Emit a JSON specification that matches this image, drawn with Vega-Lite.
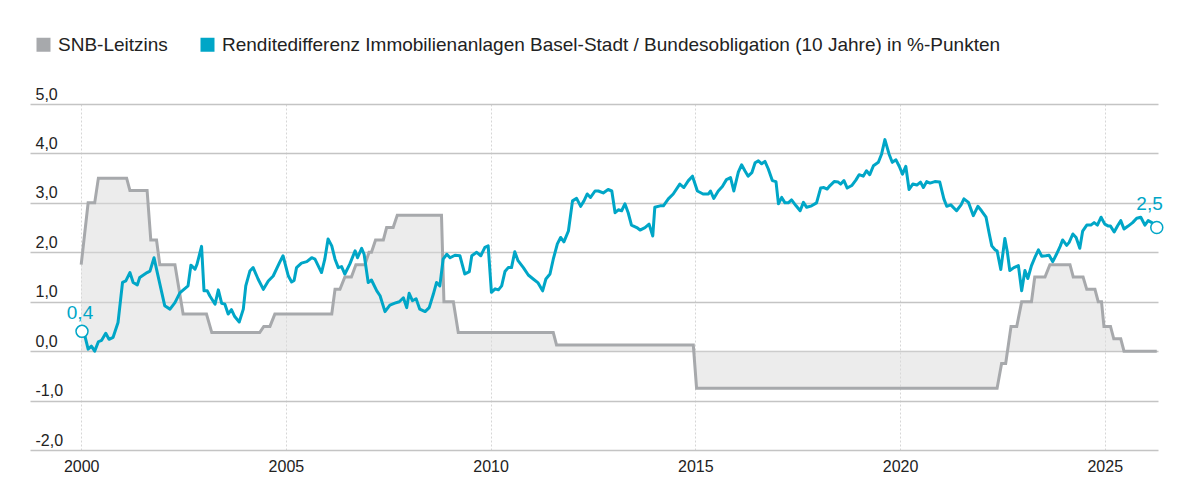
{
  "$schema": "https://vega.github.io/schema/vega-lite/v6.json",
  "width": 1128,
  "height": 346,
  "autosize": {"type": "none"},
  "padding": {"left": 30, "top": 104, "right": 32, "bottom": 50},
  "background": "white",
  "config": {
    "view": {"stroke": null},
    "font": "Liberation Sans"
  },
  "datasets": {
    "snb": [
      {"year":2000.00,"value":1.75},{"year":2000.17,"value":3.0},{"year":2000.33,"value":3.0},{"year":2000.42,"value":3.5},
      {"year":2001.11,"value":3.5},{"year":2001.19,"value":3.25},{"year":2001.61,"value":3.25},{"year":2001.70,"value":2.25},
      {"year":2001.84,"value":2.25},{"year":2001.92,"value":1.75},{"year":2002.29,"value":1.75},{"year":2002.49,"value":0.75},
      {"year":2003.06,"value":0.75},{"year":2003.19,"value":0.375},{"year":2004.36,"value":0.375},{"year":2004.46,"value":0.5},
      {"year":2004.61,"value":0.5},{"year":2004.73,"value":0.75},{"year":2006.12,"value":0.75},{"year":2006.20,"value":1.25},
      {"year":2006.32,"value":1.25},{"year":2006.44,"value":1.5},{"year":2006.60,"value":1.5},{"year":2006.71,"value":1.75},
      {"year":2006.93,"value":1.75},{"year":2007.03,"value":2.0},{"year":2007.09,"value":2.0},{"year":2007.19,"value":2.25},
      {"year":2007.38,"value":2.25},{"year":2007.46,"value":2.5},{"year":2007.62,"value":2.5},{"year":2007.72,"value":2.75},
      {"year":2008.80,"value":2.75},{"year":2008.86,"value":1.0},{"year":2009.09,"value":1.0},{"year":2009.21,"value":0.375},
      {"year":2011.53,"value":0.375},{"year":2011.61,"value":0.125},{"year":2014.95,"value":0.125},{"year":2015.03,"value":-0.75},
      {"year":2022.37,"value":-0.75},{"year":2022.48,"value":-0.25},{"year":2022.58,"value":-0.25},{"year":2022.71,"value":0.5},
      {"year":2022.85,"value":0.5},{"year":2022.97,"value":1.0},{"year":2023.21,"value":1.0},{"year":2023.29,"value":1.5},
      {"year":2023.54,"value":1.5},{"year":2023.66,"value":1.75},{"year":2024.15,"value":1.75},{"year":2024.23,"value":1.5},
      {"year":2024.47,"value":1.5},{"year":2024.56,"value":1.25},{"year":2024.76,"value":1.25},{"year":2024.84,"value":1.0},
      {"year":2024.92,"value":1.0},{"year":2024.98,"value":0.5},{"year":2025.14,"value":0.5},{"year":2025.22,"value":0.25},
      {"year":2025.39,"value":0.25},{"year":2025.47,"value":0.0},{"year":2026.27,"value":0.0}
    ],
    "spread": [
      {"year":2000.02,"value":0.40},{"year":2000.09,"value":0.31},{"year":2000.17,"value":0.04},{"year":2000.25,"value":0.10},
      {"year":2000.33,"value":0.00},{"year":2000.42,"value":0.19},{"year":2000.50,"value":0.22},{"year":2000.60,"value":0.36},
      {"year":2000.68,"value":0.24},{"year":2000.78,"value":0.28},{"year":2000.90,"value":0.58},{"year":2001.01,"value":1.39},
      {"year":2001.09,"value":1.42},{"year":2001.19,"value":1.59},{"year":2001.27,"value":1.39},{"year":2001.37,"value":1.34},
      {"year":2001.43,"value":1.49},{"year":2001.61,"value":1.59},{"year":2001.68,"value":1.62},{"year":2001.78,"value":1.89},
      {"year":2001.84,"value":1.66},{"year":2002.04,"value":0.92},{"year":2002.17,"value":0.85},{"year":2002.29,"value":0.98},
      {"year":2002.41,"value":1.18},{"year":2002.61,"value":1.32},{"year":2002.68,"value":1.74},{"year":2002.78,"value":1.66},
      {"year":2002.83,"value":1.76},{"year":2002.94,"value":2.12},{"year":2003.00,"value":1.22},{"year":2003.08,"value":1.22},
      {"year":2003.14,"value":1.12},{"year":2003.27,"value":0.95},{"year":2003.35,"value":1.24},{"year":2003.43,"value":0.97},
      {"year":2003.51,"value":0.95},{"year":2003.59,"value":0.75},{"year":2003.67,"value":0.84},{"year":2003.75,"value":0.70},
      {"year":2003.86,"value":0.59},{"year":2003.96,"value":0.85},{"year":2004.02,"value":1.32},{"year":2004.12,"value":1.62},
      {"year":2004.20,"value":1.69},{"year":2004.32,"value":1.46},{"year":2004.45,"value":1.25},{"year":2004.57,"value":1.42},
      {"year":2004.69,"value":1.52},{"year":2004.85,"value":1.80},{"year":2004.93,"value":1.93},{"year":2005.06,"value":1.52},
      {"year":2005.14,"value":1.40},{"year":2005.20,"value":1.43},{"year":2005.26,"value":1.69},{"year":2005.38,"value":1.78},
      {"year":2005.51,"value":1.81},{"year":2005.63,"value":1.89},{"year":2005.71,"value":1.86},{"year":2005.87,"value":1.59},
      {"year":2005.95,"value":1.86},{"year":2006.03,"value":2.27},{"year":2006.12,"value":2.13},{"year":2006.20,"value":1.86},
      {"year":2006.28,"value":1.69},{"year":2006.36,"value":1.71},{"year":2006.44,"value":1.56},{"year":2006.56,"value":1.76},
      {"year":2006.69,"value":2.03},{"year":2006.75,"value":1.89},{"year":2006.85,"value":2.08},{"year":2006.91,"value":1.96},
      {"year":2007.01,"value":1.39},{"year":2007.09,"value":1.44},{"year":2007.22,"value":1.22},{"year":2007.30,"value":1.12},
      {"year":2007.42,"value":0.80},{"year":2007.54,"value":0.93},{"year":2007.66,"value":0.97},{"year":2007.77,"value":1.00},
      {"year":2007.87,"value":1.08},{"year":2007.95,"value":0.88},{"year":2008.01,"value":1.17},{"year":2008.09,"value":1.02},
      {"year":2008.18,"value":1.06},{"year":2008.27,"value":0.85},{"year":2008.40,"value":0.80},{"year":2008.50,"value":0.88},
      {"year":2008.60,"value":1.15},{"year":2008.68,"value":1.39},{"year":2008.76,"value":1.32},{"year":2008.84,"value":1.86},
      {"year":2008.93,"value":1.96},{"year":2009.01,"value":1.89},{"year":2009.13,"value":1.94},{"year":2009.25,"value":1.93},
      {"year":2009.37,"value":1.56},{"year":2009.48,"value":1.61},{"year":2009.54,"value":1.93},{"year":2009.66,"value":2.00},
      {"year":2009.76,"value":1.93},{"year":2009.86,"value":2.10},{"year":2009.94,"value":2.13},{"year":2010.02,"value":1.19},
      {"year":2010.11,"value":1.26},{"year":2010.19,"value":1.24},{"year":2010.27,"value":1.32},{"year":2010.35,"value":1.61},
      {"year":2010.43,"value":1.69},{"year":2010.51,"value":1.69},{"year":2010.59,"value":2.01},{"year":2010.67,"value":1.83},
      {"year":2010.80,"value":1.69},{"year":2010.92,"value":1.54},{"year":2011.04,"value":1.46},{"year":2011.16,"value":1.38},
      {"year":2011.27,"value":1.22},{"year":2011.35,"value":1.46},{"year":2011.45,"value":1.56},{"year":2011.53,"value":1.86},
      {"year":2011.63,"value":2.17},{"year":2011.71,"value":2.30},{"year":2011.79,"value":2.21},{"year":2011.90,"value":2.43},
      {"year":2012.00,"value":3.04},{"year":2012.10,"value":3.09},{"year":2012.20,"value":2.93},{"year":2012.28,"value":3.04},
      {"year":2012.36,"value":3.18},{"year":2012.44,"value":3.11},{"year":2012.55,"value":3.24},{"year":2012.63,"value":3.24},
      {"year":2012.75,"value":3.20},{"year":2012.87,"value":3.27},{"year":2012.96,"value":3.24},{"year":2013.04,"value":2.80},
      {"year":2013.12,"value":2.86},{"year":2013.20,"value":2.84},{"year":2013.28,"value":2.98},{"year":2013.36,"value":2.80},
      {"year":2013.44,"value":2.55},{"year":2013.57,"value":2.50},{"year":2013.65,"value":2.45},{"year":2013.77,"value":2.50},
      {"year":2013.87,"value":2.57},{"year":2013.96,"value":2.33},{"year":2014.01,"value":2.91},{"year":2014.14,"value":2.94},
      {"year":2014.22,"value":2.94},{"year":2014.34,"value":3.08},{"year":2014.46,"value":3.18},{"year":2014.62,"value":3.38},
      {"year":2014.72,"value":3.31},{"year":2014.83,"value":3.45},{"year":2014.93,"value":3.54},{"year":2015.05,"value":3.24},
      {"year":2015.19,"value":3.18},{"year":2015.32,"value":3.18},{"year":2015.37,"value":3.24},{"year":2015.45,"value":3.09},
      {"year":2015.56,"value":3.24},{"year":2015.66,"value":3.33},{"year":2015.76,"value":3.47},{"year":2015.86,"value":3.51},
      {"year":2015.94,"value":3.24},{"year":2016.05,"value":3.62},{"year":2016.13,"value":3.77},{"year":2016.21,"value":3.65},
      {"year":2016.29,"value":3.54},{"year":2016.38,"value":3.61},{"year":2016.46,"value":3.81},{"year":2016.54,"value":3.85},
      {"year":2016.62,"value":3.79},{"year":2016.70,"value":3.84},{"year":2016.78,"value":3.69},{"year":2016.88,"value":3.45},
      {"year":2016.97,"value":3.43},{"year":2017.03,"value":2.98},{"year":2017.11,"value":3.11},{"year":2017.19,"value":3.00},
      {"year":2017.27,"value":3.00},{"year":2017.35,"value":3.06},{"year":2017.46,"value":2.94},{"year":2017.56,"value":2.84},
      {"year":2017.64,"value":3.01},{"year":2017.72,"value":2.91},{"year":2017.84,"value":2.94},{"year":2017.96,"value":3.00},
      {"year":2018.06,"value":3.30},{"year":2018.14,"value":3.31},{"year":2018.22,"value":3.28},{"year":2018.29,"value":3.35},
      {"year":2018.39,"value":3.43},{"year":2018.49,"value":3.42},{"year":2018.55,"value":3.38},{"year":2018.63,"value":3.45},
      {"year":2018.71,"value":3.30},{"year":2018.82,"value":3.35},{"year":2018.92,"value":3.46},{"year":2019.00,"value":3.57},
      {"year":2019.10,"value":3.54},{"year":2019.18,"value":3.65},{"year":2019.26,"value":3.57},{"year":2019.35,"value":3.75},
      {"year":2019.47,"value":3.82},{"year":2019.55,"value":3.99},{"year":2019.63,"value":4.28},{"year":2019.73,"value":3.99},
      {"year":2019.81,"value":3.82},{"year":2019.90,"value":3.87},{"year":2019.98,"value":3.74},{"year":2020.06,"value":3.58},
      {"year":2020.14,"value":3.74},{"year":2020.22,"value":3.27},{"year":2020.31,"value":3.38},{"year":2020.41,"value":3.36},
      {"year":2020.50,"value":3.42},{"year":2020.57,"value":3.31},{"year":2020.65,"value":3.43},{"year":2020.73,"value":3.40},
      {"year":2020.85,"value":3.43},{"year":2020.97,"value":3.42},{"year":2021.07,"value":3.08},{"year":2021.14,"value":2.93},
      {"year":2021.24,"value":2.96},{"year":2021.38,"value":2.84},{"year":2021.49,"value":2.96},{"year":2021.56,"value":3.08},
      {"year":2021.67,"value":3.01},{"year":2021.79,"value":2.74},{"year":2021.90,"value":2.93},{"year":2021.99,"value":2.84},
      {"year":2022.10,"value":2.71},{"year":2022.18,"value":2.37},{"year":2022.24,"value":2.13},{"year":2022.32,"value":2.05},
      {"year":2022.37,"value":2.03},{"year":2022.46,"value":1.65},{"year":2022.56,"value":2.28},{"year":2022.62,"value":2.01},
      {"year":2022.68,"value":1.63},{"year":2022.78,"value":1.69},{"year":2022.89,"value":1.73},{"year":2022.97,"value":1.22},
      {"year":2023.05,"value":1.63},{"year":2023.12,"value":1.47},{"year":2023.21,"value":1.73},{"year":2023.29,"value":1.89},
      {"year":2023.38,"value":2.05},{"year":2023.46,"value":1.92},{"year":2023.56,"value":1.93},{"year":2023.64,"value":1.94},
      {"year":2023.73,"value":1.81},{"year":2023.82,"value":1.96},{"year":2023.91,"value":2.12},{"year":2023.97,"value":2.25},
      {"year":2024.07,"value":2.14},{"year":2024.13,"value":2.20},{"year":2024.22,"value":2.37},{"year":2024.30,"value":2.30},
      {"year":2024.39,"value":2.08},{"year":2024.46,"value":2.43},{"year":2024.56,"value":2.55},{"year":2024.66,"value":2.55},
      {"year":2024.74,"value":2.60},{"year":2024.82,"value":2.55},{"year":2024.91,"value":2.71},{"year":2025.00,"value":2.57},
      {"year":2025.09,"value":2.53},{"year":2025.14,"value":2.53},{"year":2025.23,"value":2.41},{"year":2025.31,"value":2.53},
      {"year":2025.39,"value":2.64},{"year":2025.47,"value":2.47},{"year":2025.57,"value":2.53},{"year":2025.68,"value":2.60},
      {"year":2025.78,"value":2.69},{"year":2025.88,"value":2.71},{"year":2025.98,"value":2.55},{"year":2026.06,"value":2.64},
      {"year":2026.15,"value":2.60},{"year":2026.27,"value":2.50}
    ],
    "labels": [
      {"year":2000.02,"value":0.4,"label":"0,4"},
      {"year":2026.27,"value":2.5,"label":"2,5"}
    ]
  },
  "layer": [
    {
      "data": {"name": "snb"},
      "mark": {"type": "area", "color": "#d9d9d9", "opacity": 0.5},
      "encoding": {
        "x": {
          "field": "year", "type": "quantitative",
          "scale": {"domain": [1998.75, 2026.3], "nice": false, "zero": false},
          "axis": {
            "title": null, "values": [2000, 2005, 2010, 2015, 2020, 2025], "format": "d",
            "domain": false, "ticks": false, "labelFlush": false,
            "labelFont": "Liberation Sans", "labelFontSize": 16, "labelColor": "#222222", "labelPadding": 8,
            "grid": true, "gridColor": "#d6d6d6", "gridDash": [2, 2], "gridWidth": 1
          }
        },
        "y": {
          "field": "value", "type": "quantitative",
          "scale": {"domain": [-2, 5], "nice": false, "zero": false},
          "axis": {
            "title": null, "values": [-2, -1, 0, 1, 2, 3, 4, 5],
            "labelExpr": "(datum.value < 0 ? '-' : '') + replace(format(abs(datum.value), '.1f'), '.', ',')",
            "domain": false, "ticks": false, "labelAlign": "left", "labelBaseline": "alphabetic",
            "labelPadding": -5, "labelOffset": -5,
            "labelFont": "Liberation Sans", "labelFontSize": 16, "labelColor": "#222222",
            "grid": true, "gridColor": "#c4c4c4", "gridWidth": 1.5
          }
        },
        "y2": {"datum": 0}
      }
    },
    {
      "mark": {"type": "rule", "color": "#9e9e9e", "strokeWidth": 1.5},
      "encoding": {"y": {"datum": 0}}
    },
    {
      "data": {"name": "snb"},
      "mark": {"type": "line", "strokeWidth": 3},
      "encoding": {
        "x": {"field": "year", "type": "quantitative"},
        "y": {"field": "value", "type": "quantitative"},
        "color": {
          "datum": "SNB-Leitzins",
          "scale": {
            "domain": ["SNB-Leitzins", "Renditedifferenz Immobilienanlagen Basel-Stadt / Bundesobligation (10 Jahre) in %-Punkten"],
            "range": ["#a7a9ac", "#00a6c7"]
          },
          "legend": {
            "orient": "none", "legendX": 4, "legendY": -69, "direction": "horizontal", "title": null,
            "symbolType": "square", "symbolSize": 196, "symbolStrokeWidth": 0,
            "labelFont": "Liberation Sans", "labelFontSize": 19, "labelColor": "#222222", "labelLimit": 1200,
            "labelOffset": 5, "columnPadding": 30, "padding": 0,
            "encode": {"symbols": {"update": {"fill": {"scale": "color", "field": "value"}, "stroke": {"value": "transparent"}, "opacity": {"value": 1}}}}
          }
        }
      }
    },
    {
      "data": {"name": "spread"},
      "mark": {"type": "line", "strokeWidth": 3, "strokeJoin": "round"},
      "encoding": {
        "x": {"field": "year", "type": "quantitative"},
        "y": {"field": "value", "type": "quantitative"},
        "color": {"datum": "Renditedifferenz Immobilienanlagen Basel-Stadt / Bundesobligation (10 Jahre) in %-Punkten"}
      }
    },
    {
      "data": {"name": "labels"},
      "mark": {"type": "point", "shape": "circle", "filled": true, "fill": "white", "stroke": "#00a6c7", "strokeWidth": 1.5, "size": 144, "opacity": 1},
      "encoding": {
        "x": {"field": "year", "type": "quantitative"},
        "y": {"field": "value", "type": "quantitative"}
      }
    },
    {
      "data": {"name": "labels"},
      "transform": [{"filter": "datum.year < 2010"}],
      "mark": {"type": "text", "font": "Liberation Sans", "fontSize": 19, "color": "#00a6c7", "align": "center", "baseline": "alphabetic", "dy": -12, "dx": -2},
      "encoding": {
        "x": {"field": "year", "type": "quantitative"},
        "y": {"field": "value", "type": "quantitative"},
        "text": {"field": "label"}
      }
    },
    {
      "data": {"name": "labels"},
      "transform": [{"filter": "datum.year > 2010"}],
      "mark": {"type": "text", "font": "Liberation Sans", "fontSize": 19, "color": "#00a6c7", "align": "right", "baseline": "alphabetic", "dy": -18, "dx": 6},
      "encoding": {
        "x": {"field": "year", "type": "quantitative"},
        "y": {"field": "value", "type": "quantitative"},
        "text": {"field": "label"}
      }
    }
  ]
}
